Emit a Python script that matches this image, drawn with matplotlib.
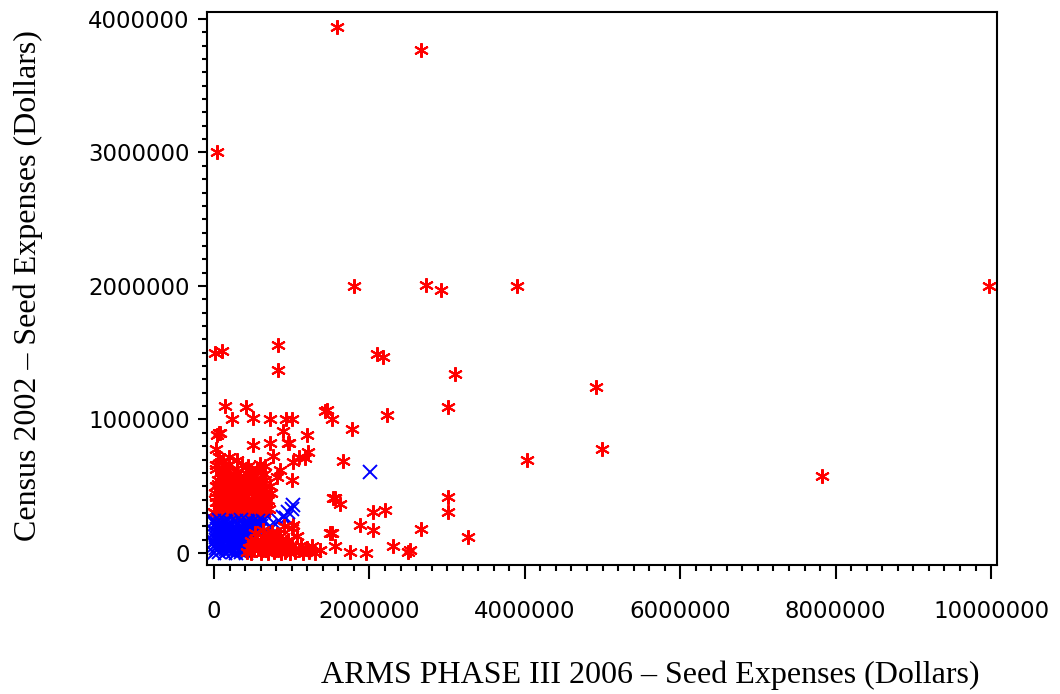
import matplotlib
matplotlib.use("Agg")
from matplotlib import pyplot as plt
from matplotlib.ticker import MultipleLocator, FixedLocator

# values in millions of dollars
# red asterisks: scattered points
red_x = [1.58, 2.66, 0.04, 1.80, 2.73, 2.92, 3.90, 9.97, 0.01, 0.10, 0.82, 0.82,
         2.10, 2.17, 3.10, 4.91, 3.01, 2.23, 1.43, 1.52, 1.78, 4.99, 4.03, 7.82,
         1.66, 3.01, 3.01, 3.27, 2.66, 2.52, 1.56, 1.62, 2.05, 2.20, 1.88, 2.05,
         1.52, 2.30, 2.50, 1.56, 1.75, 1.96, 1.20, 1.00, 0.97, 1.21, 1.17, 1.02,
         1.00, 1.07, 1.36, 1.20, 0.14, 0.41, 0.23, 0.50, 0.72, 0.93, 0.08, 0.89,
         0.50, 0.72, 0.95, 0.76, 0.19, 0.30, 0.04, 0.59, 0.66, 1.10, 0.85, 0.81,
         1.53, 1.02, 1.49, 1.45]
red_y = [3.94, 3.77, 3.00, 2.00, 2.01, 1.97, 2.00, 2.00, 1.50, 1.51, 1.56, 1.37,
         1.49, 1.47, 1.34, 1.24, 1.09, 1.03, 1.06, 1.00, 0.93, 0.78, 0.70, 0.58,
         0.69, 0.42, 0.31, 0.12, 0.18, 0.02, 0.41, 0.37, 0.31, 0.32, 0.21, 0.17,
         0.15, 0.05, 0.01, 0.05, 0.01, 0.00, 0.88, 1.00, 0.82, 0.76, 0.71, 0.68,
         0.55, 0.13, 0.02, 0.04, 1.10, 1.09, 1.00, 1.01, 1.00, 1.00, 0.90, 0.91,
         0.81, 0.82, 0.82, 0.73, 0.72, 0.70, 0.66, 0.67, 0.65, 0.72, 0.62, 0.57,
         0.41, 0.21, 0.15, 1.07]

# red asterisks: dense block near the origin
red_dense_x = [0.01, 0.03, 0.05, 0.02, 0.07, 0.09, 0.04, 0.11, 0.12, 0.14, 0.16, 0.13,
               0.18, 0.20, 0.21, 0.23, 0.25, 0.26, 0.28, 0.30, 0.31, 0.33, 0.35, 0.36,
               0.38, 0.40, 0.41, 0.43, 0.45, 0.46, 0.48, 0.50, 0.52, 0.53, 0.55, 0.57,
               0.58, 0.60, 0.62, 0.63, 0.65, 0.67, 0.70, 0.72, 0.06, 0.15, 0.19, 0.24,
               0.27, 0.34, 0.39, 0.44, 0.49, 0.56, 0.59, 0.10, 0.17, 0.22, 0.29, 0.32,
               0.37, 0.42, 0.47, 0.51, 0.54, 0.61, 0.66, 0.08, 0.02, 0.05, 0.12, 0.02,
               0.04, 0.07, 0.03, 0.44, 0.36, 0.55,
               0.00, 0.08, 0.16, 0.24, 0.32, 0.40, 0.48, 0.56, 0.64, 0.71,
               0.03, 0.11, 0.19, 0.27, 0.35, 0.43, 0.51, 0.59, 0.67,
               0.01, 0.09, 0.17, 0.25, 0.33, 0.41, 0.49, 0.57, 0.65, 0.73,
               0.05, 0.13, 0.21, 0.29, 0.37, 0.45, 0.53, 0.61,
               0.10, 0.26, 0.34, 0.42, 0.50, 0.64]
red_dense_y = [0.30, 0.42, 0.55, 0.63, 0.36, 0.48, 0.28, 0.33, 0.52, 0.40, 0.62, 0.29,
               0.45, 0.35, 0.57, 0.30, 0.42, 0.50, 0.33, 0.61, 0.38, 0.46, 0.29, 0.54,
               0.41, 0.33, 0.60, 0.47, 0.37, 0.28, 0.52, 0.43, 0.31, 0.58, 0.39, 0.48,
               0.30, 0.62, 0.36, 0.44, 0.55, 0.32, 0.40, 0.50, 0.72, 0.30, 0.67, 0.38,
               0.59, 0.35, 0.50, 0.56, 0.34, 0.27, 0.45, 0.44, 0.55, 0.48, 0.27, 0.52,
               0.44, 0.39, 0.62, 0.36, 0.47, 0.53, 0.38, 0.60, 0.50, 0.38, 0.68, 0.78,
               0.88, 0.90, 0.66, 0.65, 0.66, 0.63,
               0.31, 0.32, 0.30, 0.31, 0.32, 0.30, 0.31, 0.32, 0.30, 0.33,
               0.38, 0.37, 0.39, 0.38, 0.37, 0.39, 0.38, 0.37, 0.39,
               0.45, 0.44, 0.46, 0.45, 0.44, 0.46, 0.45, 0.44, 0.46, 0.45,
               0.52, 0.51, 0.53, 0.52, 0.51, 0.53, 0.52, 0.51,
               0.58, 0.59, 0.58, 0.59, 0.58, 0.59]

# red asterisks: low band along the x axis
red_low_x = [0.42, 0.45, 0.48, 0.50, 0.52, 0.55, 0.57, 0.60, 0.62, 0.64, 0.66, 0.68,
             0.70, 0.72, 0.75, 0.77, 0.79, 0.82, 0.84, 0.86, 0.88, 0.91, 0.93, 0.96,
             0.98, 1.01, 1.04, 1.07, 1.09, 1.12, 1.15, 1.18, 1.22, 1.26, 1.30, 1.36,
             0.53, 0.63, 0.74, 0.85, 0.58, 0.47, 0.81, 0.95, 0.71, 1.00, 0.90]
red_low_y = [0.01, 0.04, 0.00, 0.07, 0.02, 0.10, 0.03, 0.00, 0.06, 0.12, 0.02, 0.08,
             0.00, 0.04, 0.11, 0.01, 0.06, 0.02, 0.09, 0.00, 0.05, 0.01, 0.08, 0.03,
             0.00, 0.05, 0.01, 0.13, 0.02, 0.06, 0.00, 0.03, 0.01, 0.05, 0.00, 0.02,
             0.15, 0.17, 0.16, 0.13, 0.05, 0.09, 0.14, 0.10, 0.13, 0.19, 0.20]

# blue crosses: solid block near the origin plus a few stragglers
blue_x = [0.00, 0.07, 0.14, 0.21, 0.28, 0.35, 0.41,
          0.02, 0.09, 0.16, 0.23, 0.30, 0.37, 0.43,
          0.00, 0.06, 0.13, 0.20, 0.27, 0.34, 0.40, 0.46,
          0.03, 0.10, 0.17, 0.24, 0.31, 0.38, 0.45, 0.51,
          0.01, 0.08, 0.15, 0.22, 0.29, 0.36, 0.43, 0.50, 0.56,
          0.04, 0.11, 0.18, 0.25, 0.32, 0.39, 0.46, 0.53, 0.60,
          0.00, 0.07, 0.14, 0.21, 0.28, 0.35, 0.42, 0.49, 0.56, 0.63,
          0.05, 0.12, 0.19, 0.26, 0.33, 0.39, 0.48, 0.55,
          0.04, 0.11, 0.18, 0.25, 0.31, 0.38,
          0.01, 0.05, 0.12, 0.19, 0.26, 0.33, 0.40,
          0.03, 0.09, 0.16, 0.23, 0.30, 0.37, 0.44, 0.49,
          0.02, 0.07, 0.14, 0.21, 0.28, 0.35, 0.42, 0.48,
          0.04, 0.11, 0.18, 0.25, 0.32, 0.39, 0.46, 0.53, 0.59,
          0.01, 0.09, 0.16, 0.23, 0.30, 0.37, 0.44, 0.51, 0.58,
          0.72, 0.78, 0.83, 0.89, 0.95, 1.00, 1.02, 0.93, 2.01]
blue_y = [0.00, 0.01, 0.00, 0.02, 0.00, 0.01, 0.00,
          0.04, 0.05, 0.03, 0.04, 0.05, 0.04, 0.03,
          0.08, 0.09, 0.07, 0.08, 0.09, 0.08, 0.07, 0.08,
          0.12, 0.13, 0.12, 0.11, 0.12, 0.13, 0.12, 0.11,
          0.16, 0.17, 0.16, 0.15, 0.16, 0.17, 0.16, 0.15, 0.16,
          0.20, 0.21, 0.20, 0.19, 0.20, 0.21, 0.20, 0.19, 0.20,
          0.24, 0.25, 0.24, 0.23, 0.24, 0.25, 0.24, 0.23, 0.24, 0.24,
          0.22, 0.18, 0.14, 0.10, 0.06, 0.02, 0.14, 0.22,
          0.02, 0.03, 0.02, 0.01, 0.02, 0.03,
          0.06, 0.06, 0.07, 0.06, 0.05, 0.06, 0.05,
          0.10, 0.10, 0.11, 0.10, 0.09, 0.10, 0.11, 0.10,
          0.14, 0.14, 0.15, 0.14, 0.13, 0.14, 0.15, 0.13,
          0.18, 0.18, 0.19, 0.18, 0.17, 0.18, 0.19, 0.18, 0.17,
          0.22, 0.22, 0.23, 0.22, 0.21, 0.22, 0.23, 0.22, 0.21,
          0.20, 0.22, 0.24, 0.27, 0.31, 0.33, 0.36, 0.26, 0.61]

x_ticks = [0, 2000000, 4000000, 6000000, 8000000, 10000000]
y_ticks = [0, 1000000, 2000000, 3000000, 4000000]

M = 1e6
fig = plt.figure(figsize=(10.6, 6.94), dpi=100)
ax = fig.add_axes([0.1953, 0.1859, 0.7453, 0.7968])

asterisk = (6, 2, 0)
red_style = dict(linestyle="none", marker=asterisk, markersize=10.5,
                 markeredgewidth=1.5, color="red")
for xs, ys in [(red_dense_x, red_dense_y), (red_x, red_y)]:
    ax.plot([v * M for v in xs], [v * M for v in ys], **red_style)
ax.plot([v * M for v in blue_x], [v * M for v in blue_y], linestyle="none",
        marker="x", markersize=9.5, markeredgewidth=1.4, color="blue")
ax.plot([v * M for v in red_low_x], [v * M for v in red_low_y], **red_style)

ax.set_xlim(-0.09 * M, 10.077 * M)
ax.set_ylim(-0.09 * M, 4.052 * M)

ax.xaxis.set_major_locator(FixedLocator(x_ticks))
ax.yaxis.set_major_locator(FixedLocator(y_ticks))
ax.xaxis.set_minor_locator(MultipleLocator(200000))
ax.yaxis.set_minor_locator(MultipleLocator(100000))
ax.set_xticklabels([str(t) for t in x_ticks])
ax.set_yticklabels([str(t) for t in y_ticks])

for s in ax.spines.values():
    s.set_linewidth(1.5)
ax.tick_params(axis="x", which="major", length=10, width=1.5, pad=15,
               labelsize=16.5)
ax.tick_params(axis="x", which="minor", length=4, width=1.5)
ax.tick_params(axis="y", which="major", length=6.5, width=1.5, pad=6,
               labelsize=16.5)
ax.tick_params(axis="y", which="minor", length=3.5, width=1.5)
for lab in ax.get_xticklabels() + ax.get_yticklabels():
    lab.set_family("DejaVu Sans")

ax.set_xlabel("ARMS PHASE III 2006 \u2013 Seed Expenses (Dollars)",
              family="Liberation Serif", fontsize=23)
ax.set_ylabel("Census 2002 \u2013 Seed Expenses (Dollars)",
              family="Liberation Serif", fontsize=23)
ax.xaxis.set_label_coords(0.561, -0.172)
ax.yaxis.set_label_coords(-0.207, 0.506)

fig.savefig("out.png", dpi=100)
